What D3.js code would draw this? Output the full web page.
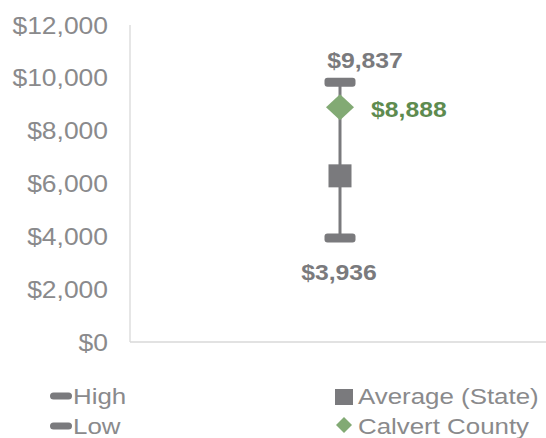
<!DOCTYPE html>
<html>
<head>
<meta charset="utf-8">
<script src="https://cdn.jsdelivr.net/npm/d3@7"></script>
<style>
html,body{margin:0;padding:0;background:#fff;}
svg{display:block;font-family:"Liberation Sans",Arial,sans-serif;}
</style>
</head>
<body>
<svg id="chart" width="546" height="438"></svg>
<script>
const categories = [""];
const highValues = [9837];
const lowValues = [3936];
const averageValues = [6290];
const countyValues = [8888];
const yTickValues = [0, 2000, 4000, 6000, 8000, 10000, 12000];
const legendLeft = ["High", "Low"];
const legendRight = ["Average (State)", "Calvert County"];

const svg = d3.select("#chart");
const W = 546, H = 438;
const plotLeft = 130, plotRight = 550, plotTop = 25, plotBottom = 342;

const y = d3.scaleLinear().domain([0, 12000]).range([plotBottom, plotTop]);
const x = d3.scalePoint().domain(categories).range([plotLeft, plotRight]).padding(0.5);
const fmt = d3.format("$,");

const grey = "#7a7a7d";
const greenMark = "#82aa74";
const greenText = "#5e8b4f";
const axisText = "#8a8a8c";

// axis lines
svg.append("line").attr("x1", plotLeft).attr("x2", W).attr("y1", y(0)).attr("y2", y(0))
  .attr("stroke", "#d9d9d9").attr("stroke-width", 1.3);
svg.append("line").attr("x1", plotLeft).attr("x2", plotLeft).attr("y1", y(12000)).attr("y2", y(0))
  .attr("stroke", "#d9d9d9").attr("stroke-width", 1.3);

// y axis labels
const yAxis = d3.axisLeft(y).tickValues(yTickValues).tickFormat(fmt).tickSize(0);
const ag = svg.append("g").attr("transform", `translate(${plotLeft},0)`).call(yAxis);
ag.select(".domain").remove();
ag.selectAll("text")
  .attr("x", 0)
  .attr("dy", "0.35em")
  .attr("transform", "translate(-22,0) scale(1.15,1)")
  .attr("fill", axisText)
  .style("font-size", "23px")
  .style("font-family", "'Liberation Sans', Arial, sans-serif");

function sText(px, py, str, opts) {
  const g = svg.append("g").attr("transform", `translate(${px},${py}) scale(${opts.sx || 1},1)`);
  return g.append("text").attr("x", 0).attr("y", 0)
    .attr("text-anchor", opts.anchor || "start")
    .attr("fill", opts.fill)
    .style("font-size", (opts.size || 22) + "px")
    .style("font-weight", opts.bold ? "bold" : "normal")
    .text(str);
}

categories.forEach((c, i) => {
  const cx = x(c);
  // range line
  svg.append("line").attr("x1", cx).attr("x2", cx)
    .attr("y1", y(highValues[i])).attr("y2", y(lowValues[i]))
    .attr("stroke", grey).attr("stroke-width", 3);
  // high / low bars
  [highValues[i], lowValues[i]].forEach(v => {
    svg.append("rect").attr("x", cx - 15.5).attr("y", y(v) - 4.5)
      .attr("width", 31).attr("height", 9).attr("rx", 3)
      .attr("fill", grey);
  });
  // average square
  svg.append("rect").attr("x", cx - 11.5).attr("y", y(averageValues[i]) - 11.5)
    .attr("width", 23).attr("height", 23).attr("fill", grey);
  // county diamond
  const dy = y(countyValues[i]);
  svg.append("path")
    .attr("d", `M${cx},${dy - 13} L${cx + 14},${dy} L${cx},${dy + 13} L${cx - 14},${dy} Z`)
    .attr("fill", greenMark);

  // labels
  sText(cx + 25, y(highValues[i]) - 14, fmt(highValues[i]), {anchor: "middle", fill: grey, bold: true, sx: 1.1, size: 22.5});
  sText(cx - 1, y(lowValues[i]) + 42, fmt(lowValues[i]), {anchor: "middle", fill: grey, bold: true, sx: 1.1, size: 22.5});
  sText(cx + 31, dy + 10, fmt(countyValues[i]), {anchor: "start", fill: greenText, bold: true, sx: 1.1, size: 22.5});
});

// legend
const leftRows = [396, 426];
legendLeft.forEach((name, i) => {
  svg.append("rect").attr("x", 50).attr("y", leftRows[i] - 3.5).attr("width", 22).attr("height", 7)
    .attr("rx", 3.5).attr("fill", grey);
  sText(73, leftRows[i] + 8, name, {fill: axisText, sx: 1.15, size: 22.5});
});
// average square
svg.append("rect").attr("x", 335).attr("y", 389).attr("width", 18).attr("height", 16).attr("fill", grey);
sText(358, 404, legendRight[0], {fill: axisText, sx: 1.15, size: 22.5});
// diamond
svg.append("path").attr("d", `M344,417 L352,425 L344,433 L336,425 Z`).attr("fill", greenMark);
sText(358, 434, legendRight[1], {fill: axisText, sx: 1.15, size: 22.5});
</script>
</body>
</html>
